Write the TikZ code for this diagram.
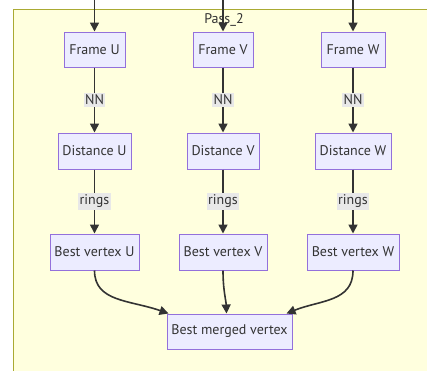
\documentclass[tikz,border=0pt]{standalone}
\usepackage{fontspec}
\setmainfont{PT Sans}
\usetikzlibrary{arrows.meta}
\definecolor{clusterfill}{HTML}{FFFFDE}
\definecolor{clusterline}{HTML}{AAAA33}
\definecolor{boxfill}{HTML}{ECECFF}
\definecolor{boxline}{HTML}{9370DB}
\definecolor{edgecol}{HTML}{333333}
\definecolor{labelfill}{HTML}{E8E8E8}
\tikzset{
  box/.style={draw=boxline, fill=boxfill, line width=1pt, inner sep=0pt,
    font=\fontsize{14}{15}\selectfont, text=edgecol},
  flow/.style={draw=edgecol, line width=1.6pt,
    -{Triangle[length=9pt,width=9pt]}},
  elabel/.style={fill=labelfill, inner xsep=1.5pt, inner ysep=2pt,
    font=\fontsize{14}{15}\selectfont, text=edgecol}
}
\begin{document}
\begin{tikzpicture}[x=1pt,y=-1pt]
\useasboundingbox (0,0) rectangle (427,370);
% cluster background
\begin{scope}
\clip (0,0) rectangle (427,370);
\draw[clusterline, fill=clusterfill, line width=1pt] (13,9) rectangle (445,390);
\end{scope}
\node[font=\fontsize{14}{15}\selectfont, text=edgecol] (title) at (224,20) {Pass\_2};

% first row
\node[box, minimum width=61pt, minimum height=35pt] (fu) at (94.5,49.5) {Frame U};
\node[box, minimum width=60pt, minimum height=35pt] (fv) at (223,49.5) {Frame V};
\node[box, minimum width=64pt, minimum height=35pt] (fw) at (353,49.5) {Frame W};
% second row
\node[box, minimum width=73pt, minimum height=36pt] (du) at (94.5,151) {Distance U};
\node[box, minimum width=72pt, minimum height=36pt] (dv) at (223,151) {Distance V};
\node[box, minimum width=76pt, minimum height=36pt] (dw) at (353,151) {Distance W};
% third row
\node[box, minimum width=89pt, minimum height=36pt] (bu) at (94.5,252) {Best vertex U};
\node[box, minimum width=88pt, minimum height=36pt] (bv) at (223,252) {Best vertex V};
\node[box, minimum width=92pt, minimum height=36pt] (bw) at (353,252) {Best vertex W};
% merge
\node[box, minimum width=125pt, minimum height=35pt] (bm) at (229.5,331.5) {Best merged vertex};

% incoming edges from above
\coordinate (inu) at (94.5,0);
\coordinate (inv) at (223,0);
\coordinate (inw) at (353,0);
\draw[flow] (inu) -- (fu);
\draw[flow] (inv) -- (fv);
\draw[flow] (inw) -- (fw);

% labelled edges
\foreach \a/\b in {fu/du, fv/dv, fw/dw}
  \draw[flow] (\a) -- node[elabel] {NN} (\b);
\foreach \a/\b in {du/bu, dv/bv, dw/bw}
  \draw[flow] (\a) -- node[elabel] {rings} (\b);

% merging curves, ending on the top edge of the merged box
\coordinate (mu) at ([xshift=2pt]bm.north west);
\coordinate (mv) at ([xshift=-3pt]bm.north);
\coordinate (mw) at ([xshift=-6pt]bm.north east);
\draw[flow] (bu.south) .. controls (94.5,302) and (130,300) .. (mu);
\draw[flow] (bv.south) .. controls (223,290) and (226,300) .. (mv);
\draw[flow] (bw.south) .. controls (353,302) and (320,300) .. (mw);
\end{tikzpicture}
\end{document}
